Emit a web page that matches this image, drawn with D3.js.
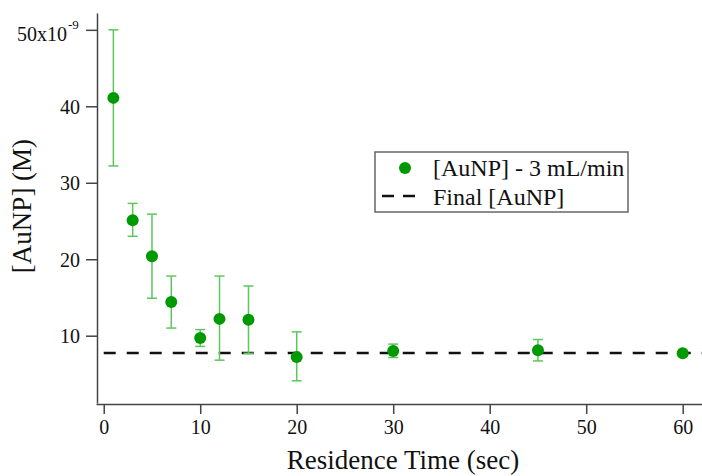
<!DOCTYPE html>
<html>
<head>
<meta charset="utf-8">
<script src="https://cdn.jsdelivr.net/npm/d3@7"></script>
<style>
  body { margin: 0; background: #fff; }
  text { font-family: "Liberation Serif", "Times New Roman", serif; fill: #111; }
</style>
</head>
<body>
<div id="chart"></div>
<script>
// residence time (sec)
var times = [1, 3, 5, 7, 10, 12, 15, 20, 30, 45, 60]
// [AuNP] in units of 1e-9 M
var conc = [41.1, 25.1, 20.4, 14.4, 9.7, 12.2, 12.1, 7.2, 8.0, 8.1, 7.7]
var errHigh = [50.0, 27.3, 25.9, 17.8, 10.8, 17.8, 16.5, 10.5, 8.9, 9.5, 7.8]
var errLow = [32.2, 23.0, 14.9, 11.0, 8.6, 6.8, 7.7, 4.1, 7.15, 6.7, 7.6]
var finalConc = 7.75
var xTicks = [0, 10, 20, 30, 40, 50, 60]
var yTicks = [10, 20, 30, 40, 50]
var legendLabels = ["[AuNP] - 3 mL/min", "Final [AuNP]"]

var width = 702, height = 476

var svg = d3.select("#chart").append("svg")
    .attr("width", width)
    .attr("height", height)

var x = d3.scaleLinear().domain([-0.8, 62]).range([96, 702])
var y = d3.scaleLinear().domain([1.2, 52.2]).range([403, 13])

var axisColor = "#444"

// x axis
var xAxis = svg.append("g")
    .attr("transform", "translate(0,404)")
    .call(d3.axisBottom(x).tickValues(xTicks).tickSize(10).tickSizeOuter(0).tickPadding(6)
      .tickFormat(d3.format("d")))
xAxis.select(".domain").attr("stroke", axisColor).attr("stroke-width", 1.5)
xAxis.selectAll(".tick line").attr("stroke", axisColor).attr("stroke-width", 1.5)
xAxis.selectAll(".tick text").attr("font-size", 20).attr("fill", "#111")

// y axis
var yAxis = svg.append("g")
    .attr("transform", "translate(97,0)")
    .call(d3.axisLeft(y).tickValues(yTicks).tickSize(11).tickSizeOuter(0).tickPadding(6)
      .tickFormat(function (d) { return d === 50 ? "" : d }))
yAxis.select(".domain").attr("stroke", axisColor).attr("stroke-width", 1.5)
yAxis.selectAll(".tick line").attr("stroke", axisColor).attr("stroke-width", 1.5)
yAxis.selectAll(".tick text").attr("font-size", 20).attr("fill", "#111").attr("dy", "0.36em")

// top tick label with exponent
svg.append("text")
    .attr("x", 67)
    .attr("y", y(50) + 11)
    .attr("text-anchor", "end")
    .attr("font-size", 20)
    .text("50x10")
svg.append("text")
    .attr("x", 68)
    .attr("y", y(50) - 1)
    .attr("font-size", 13)
    .text("-9")

// axis titles
svg.append("text")
    .attr("x", 403)
    .attr("y", 469)
    .attr("text-anchor", "middle")
    .attr("font-size", 27)
    .text("Residence Time (sec)")

svg.append("text")
    .attr("transform", "translate(31,206) rotate(-90)")
    .attr("text-anchor", "middle")
    .attr("font-size", 27)
    .text("[AuNP] (M)")

// final concentration dashed line
svg.append("line")
    .attr("x1", x(0))
    .attr("x2", width)
    .attr("y1", y(finalConc))
    .attr("y2", y(finalConc))
    .attr("stroke", "#111")
    .attr("stroke-width", 2.5)
    .style("stroke-dasharray", ("12, 11"))

var data = times.map(function (t, i) {
  return { t: t, c: conc[i], hi: errHigh[i], lo: errLow[i] }
})

var errColor = "#5cc85c"
var capW = 5

var bars = svg.append("g")
    .attr("stroke", errColor)
    .attr("stroke-width", 1.5)
    .selectAll("g")
    .data(data)
    .join("g")

bars.append("line")
    .attr("x1", d => x(d.t)).attr("x2", d => x(d.t))
    .attr("y1", d => y(d.hi)).attr("y2", d => y(d.lo))
bars.append("line")
    .attr("x1", d => x(d.t) - capW).attr("x2", d => x(d.t) + capW)
    .attr("y1", d => y(d.hi)).attr("y2", d => y(d.hi))
bars.append("line")
    .attr("x1", d => x(d.t) - capW).attr("x2", d => x(d.t) + capW)
    .attr("y1", d => y(d.lo)).attr("y2", d => y(d.lo))

svg.append("g")
    .selectAll("circle")
    .data(data)
    .join("circle")
    .attr("cx", d => x(d.t))
    .attr("cy", d => y(d.c))
    .attr("r", 6)
    .attr("fill", "#009a00")

// legend
var legend = svg.append("g").attr("transform", "translate(375,152)")
legend.append("rect")
    .attr("width", 253)
    .attr("height", 60)
    .attr("fill", "#fff")
    .attr("stroke", "#666")
    .attr("stroke-width", 1.5)
legend.append("circle")
    .attr("cx", 30).attr("cy", 16).attr("r", 6).attr("fill", "#009a00")
legend.append("line")
    .attr("x1", 7).attr("x2", 40).attr("y1", 44).attr("y2", 44)
    .attr("stroke", "#111").attr("stroke-width", 2.5)
    .style("stroke-dasharray", ("12, 9"))
legend.selectAll(".lbl")
    .data(legendLabels)
    .join("text")
    .attr("class", "lbl")
    .attr("x", 58)
    .attr("y", (d, i) => 24 + i * 29)
    .attr("font-size", 24)
    .text(d => d)
</script>
</body>
</html>
